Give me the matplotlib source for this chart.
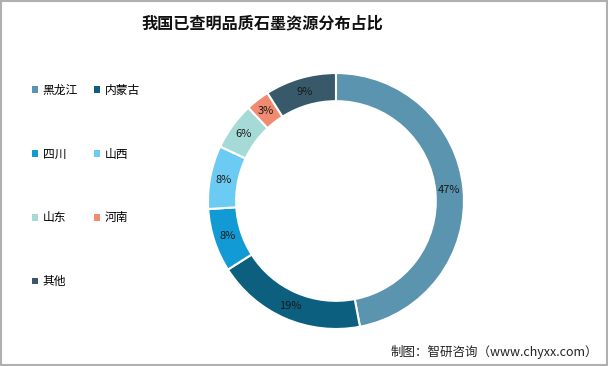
import numpy as np
import matplotlib.pyplot as plt
from matplotlib.patches import Rectangle, Patch

plt.rcParams['font.family'] = ['Noto Sans CJK SC', 'DejaVu Sans']

regions = ['黑龙江', '内蒙古', '四川', '山西', '山东', '河南', '其他']
shares = [47, 19, 8, 8, 6, 3, 9]
colors = ['#5B94AE', '#0D5F80', '#129AD4', '#6CCBF3', '#A6DAD6', '#F08A70', '#38596A']

fig = plt.figure(figsize=(6.08, 3.66), dpi=100)
fig.patch.set_facecolor('white')

# donut
ax = fig.add_axes([0.1316, 0.0998, 0.842, 0.702])
ax.set_aspect('equal')
wedges, texts = ax.pie(shares, colors=colors, startangle=90, counterclock=False,
                       radius=1.0,
                       wedgeprops=dict(width=0.22, edgecolor='white', linewidth=1.5))
for w, v in zip(wedges, shares):
    ang = np.deg2rad((w.theta1 + w.theta2) / 2)
    r = 0.89
    ax.text(r * np.cos(ang), r * np.sin(ang), f'{v}%', ha='center', va='center',
            fontsize=8, color='#1a1a1a')
ax.set_xlim(-2, 2)
ax.set_ylim(-1, 1)
ax.axis('off')

# title
fig.text(0.431, 0.935, '我国已查明品质石墨资源分布占比', ha='center', va='center',
         fontsize=11.6, fontweight='bold', color='#111111')

# legend
order = [0, 2, 4, 6, 1, 3, 5]
handles = [Patch(facecolor=colors[i], edgecolor='none', label=regions[i]) for i in order]
leg = fig.legend(handles=handles, ncol=2, loc='upper left', bbox_to_anchor=(0.035, 0.8),
                 frameon=False, fontsize=8.5, handlelength=0.5, handleheight=0.5,
                 handletextpad=0.4, columnspacing=1.4, labelspacing=4.3)

# source
fig.text(0.984, 0.037, '制图：智研咨询（www.chyxx.com）', ha='right', va='center',
         fontsize=9, color='#222222')

# frame
fig.add_artist(Rectangle((0.002, 0.003), 0.996, 0.994, transform=fig.transFigure,
                         fill=False, edgecolor='#b0b0b0', linewidth=1.5))

fig.savefig('out.png', dpi=100)
